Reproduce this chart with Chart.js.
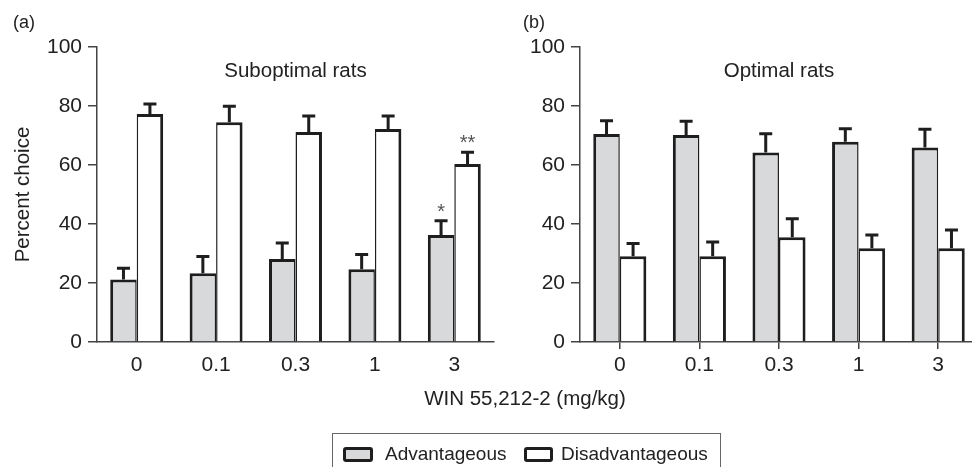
<!DOCTYPE html>
<html>
<head>
<meta charset="utf-8">
<script src="https://cdn.jsdelivr.net/npm/chart.js@4.4.1/dist/chart.umd.min.js"></script>
<style>
  html, body { margin:0; padding:0; background:#fff; width:972px; height:467px; overflow:hidden;
               position:relative; font-family:'Liberation Sans', Arial, sans-serif; color:#222; }
  canvas { position:absolute; top:0; }
  #chartA { left:0; }
  #chartB { left:483px; }
  .panel-label { position:absolute; top:12px; font-size:18px; line-height:20px; }
  #xtitle { position:absolute; top:387px; left:325px; width:400px; text-align:center;
            font-size:20.5px; line-height:22px; }
  #legend { position:absolute; left:332px; top:433px; width:387px; height:60px;
            border:1.5px solid #666; border-bottom:0; font-size:19px; }
  #legend .item { position:absolute; top:12px; display:flex; align-items:center; height:16px; }
  #legend .swatch { width:30px; height:15px; box-sizing:border-box; border:3px solid #1e1e1e;
                    border-radius:3px; margin-right:12px; }
</style>
</head>
<body>
<canvas id="chartA" width="500" height="390"></canvas>
<canvas id="chartB" width="500" height="390"></canvas>
<div class="panel-label" style="left:13px;">(a)</div>
<div class="panel-label" style="left:523px;">(b)</div>
<div id="xtitle">WIN 55,212-2 (mg/kg)</div>
<div id="legend"></div>
<script>
// doses (mg/kg) and series names
const DOSES = ['0', '0.1', '0.3', '1', '3'];
const SERIES = ['Advantageous', 'Disadvantageous'];
const Y_TICKS = [0, 20, 40, 60, 80, 100];

// (a) suboptimal rats · mean and SEM
const SUB_ADV = [21.2, 23.3, 28.1, 24.7, 36.3];
const SUB_ADV_ERR = [3.8, 5.7, 5.5, 5.0, 4.8];
const SUB_DIS = [77.3, 74.5, 71.2, 72.2, 60.3];
const SUB_DIS_ERR = [3.4, 5.4, 5.4, 4.4, 4.0];
const SUB_ADV_SIG = ['', '', '', '', '*'];
const SUB_DIS_SIG = ['', '', '', '', '**'];

// (b) optimal rats · mean and SEM
const OPT_ADV = [70.5, 70.2, 64.2, 67.9, 65.9];
const OPT_ADV_ERR = [4.5, 4.6, 6.4, 4.4, 6.2];
const OPT_DIS = [29.1, 29.1, 35.5, 31.8, 31.8];
const OPT_DIS_ERR = [4.3, 4.8, 6.3, 4.5, 6.2];
const OPT_ADV_SIG = ['', '', '', '', ''];
const OPT_DIS_SIG = ['', '', '', '', ''];

const INK = '#1e1e1e';
const AXIS = '#444';
const GREY = '#d8d9db';
const FILLS = [GREY, '#ffffff'];

Chart.defaults.font.family = "'Liberation Sans', Arial, sans-serif";
Chart.defaults.color = '#222';

// error bars (upward only) + significance marks + panel title
const decorations = {
  id: 'decorations',
  afterDatasetsDraw(chart) {
    const ctx = chart.ctx;
    const y = chart.scales.y;
    ctx.save();
    chart.data.datasets.forEach((ds, i) => {
      chart.getDatasetMeta(i).data.forEach((bar, j) => {
        const top = y.getPixelForValue(ds.data[j]);
        const end = y.getPixelForValue(ds.data[j] + ds.errors[j]);
        ctx.strokeStyle = INK;
        ctx.lineWidth = 3;
        ctx.beginPath();
        ctx.moveTo(bar.x, top);
        ctx.lineTo(bar.x, end);
        ctx.moveTo(bar.x - 6.5, end);
        ctx.lineTo(bar.x + 6.5, end);
        ctx.stroke();
        if (ds.marks[j]) {
          ctx.fillStyle = '#555';
          ctx.font = "20px 'Liberation Sans', Arial, sans-serif";
          ctx.textAlign = 'center';
          ctx.textBaseline = 'alphabetic';
          ctx.fillText(ds.marks[j], bar.x, end - 3);
        }
      });
    });
    const area = chart.chartArea;
    ctx.fillStyle = '#222';
    ctx.font = "20.5px 'Liberation Sans', Arial, sans-serif";
    ctx.textAlign = 'center';
    ctx.textBaseline = 'middle';
    ctx.fillText(chart.options.plugins.decorations.title, (area.left + area.right) / 2, area.top + 24);
    ctx.restore();
  }
};

function makePanel(id, title, adv, advErr, advSig, dis, disErr, disSig, opts) {
  return new Chart(document.getElementById(id), {
    type: 'bar',
    data: {
      labels: DOSES,
      datasets: [
        { label: SERIES[0], data: adv, errors: advErr, marks: advSig,
          backgroundColor: FILLS[0], borderColor: INK,
          borderWidth: { top: 3, left: 3, right: 1.5, bottom: 0 } },
        { label: SERIES[1], data: dis, errors: disErr, marks: disSig,
          backgroundColor: FILLS[1], borderColor: INK,
          borderWidth: { top: 3, left: 1.5, right: 3, bottom: 0 } },
      ],
    },
    options: {
      responsive: false,
      animation: false,
      events: [],
      layout: { padding: { top: 47, right: opts.padRight, left: 0, bottom: 0 } },
      datasets: { bar: { categoryPercentage: 0.667, barPercentage: 1.0 } },
      plugins: { legend: { display: false }, tooltip: { enabled: false }, decorations: { title } },
      scales: {
        x: {
          grid: { offset: false, drawOnChartArea: false, drawTicks: opts.xTicks, tickLength: 7,
                  color: AXIS, lineWidth: 1.5 },
          border: { color: AXIS, width: 1.5 },
          ticks: { font: { size: 21 }, padding: opts.xTicks ? 4 : 11, maxRotation: 0 },
          afterFit(s) { s.height = 48; },
        },
        y: {
          min: Y_TICKS[0], max: Y_TICKS[Y_TICKS.length - 1],
          afterBuildTicks(s) { s.ticks = Y_TICKS.map(v => ({ value: v })); },
          grid: { drawOnChartArea: false, tickLength: 9, color: AXIS, lineWidth: 1.5 },
          border: { color: AXIS, width: 1.5 },
          ticks: { font: { size: 21 }, padding: 6 },
          title: { display: opts.yTitle, text: 'Percent choice', font: { size: 20.5 },
                   padding: { top: 11, bottom: 0 } },
          afterFit(s) { s.width = 97; },
        },
      },
    },
    plugins: [decorations],
  });
}

makePanel('chartA', 'Suboptimal rats', SUB_ADV, SUB_ADV_ERR, SUB_ADV_SIG,
          SUB_DIS, SUB_DIS_ERR, SUB_DIS_SIG, { padRight: 6, xTicks: false, yTitle: true });
makePanel('chartB', 'Optimal rats', OPT_ADV, OPT_ADV_ERR, OPT_ADV_SIG,
          OPT_DIS, OPT_DIS_ERR, OPT_DIS_SIG, { padRight: 5, xTicks: true, yTitle: false });

// legend built from the series names
const legend = document.getElementById('legend');
const itemLeft = [10, 191];
SERIES.forEach((name, i) => {
  const item = document.createElement('div');
  item.className = 'item';
  item.style.left = itemLeft[i] + 'px';
  item.innerHTML = `<span class="swatch" style="background:${FILLS[i]};${i ? 'width:29px;margin-right:8px;' : ''}"></span><span>${name}</span>`;
  legend.appendChild(item);
});
</script>
</body>
</html>
